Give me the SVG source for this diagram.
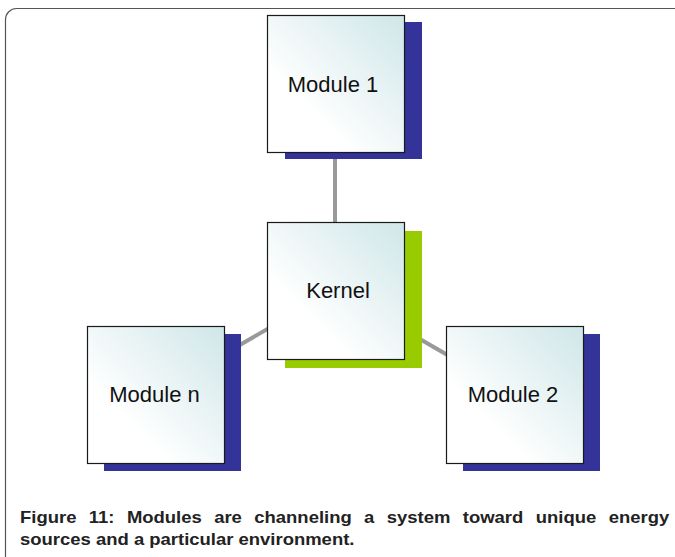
<svg xmlns="http://www.w3.org/2000/svg" width="675" height="557" viewBox="0 0 675 557">
<defs>
<linearGradient id="g" x1="0" y1="1" x2="1" y2="0">
<stop offset="0.3" stop-color="#ffffff"/>
<stop offset="1" stop-color="#cfe6e8"/>
</linearGradient>
<style>
.box{fill:url(#g);stroke:#1a1a1a;stroke-width:1.2}
.sh-b{fill:#333399}
.sh-g{fill:#99cc00}
.lbl{font-family:"Liberation Sans",Arial,sans-serif;font-size:22px;fill:#111;text-anchor:middle}
.cap{font-family:"Liberation Sans",Arial,sans-serif;font-size:16px;font-weight:bold;fill:#222}
.conn line{stroke:#999;stroke-width:4}
</style>
</defs>
<rect width="675" height="557" fill="#fff"/>
<rect x="5.5" y="8.5" width="720" height="600" rx="11" fill="none" stroke="#555" stroke-width="1.2"/>
<g id="connectors" class="conn">
<line x1="335" y1="290" x2="335" y2="84"/>
<line x1="335" y1="290" x2="155" y2="394"/>
<line x1="335" y1="290" x2="515" y2="394"/>
</g>
<g id="module1">
<rect class="sh-b" x="285" y="22" width="137" height="137"/>
<rect class="box" x="267.5" y="15.5" width="137" height="137"/>
<text class="lbl" x="333" y="92">Module 1</text>
</g>
<g id="kernel">
<rect class="sh-g" x="285" y="231" width="137" height="137"/>
<rect class="box" x="267.5" y="222.5" width="137" height="137"/>
<text class="lbl" x="338" y="298">Kernel</text>
</g>
<g id="modulen">
<rect class="sh-b" x="104" y="334" width="137" height="137"/>
<rect class="box" x="87.5" y="326.5" width="137" height="137"/>
<text class="lbl" x="154.5" y="402">Module n</text>
</g>
<g id="module2">
<rect class="sh-b" x="463" y="334" width="137" height="137"/>
<rect class="box" x="446.5" y="326.5" width="137" height="137"/>
<text class="lbl" x="513" y="402">Module 2</text>
</g>
<g id="caption" transform="translate(20,0) scale(1.155,1)">
<text class="cap" x="0" y="523" word-spacing="6.3">Figure 11: Modules are channeling a system toward unique energy</text>
<text class="cap" x="0" y="545">sources and a particular environment.</text>
</g>
</svg>
